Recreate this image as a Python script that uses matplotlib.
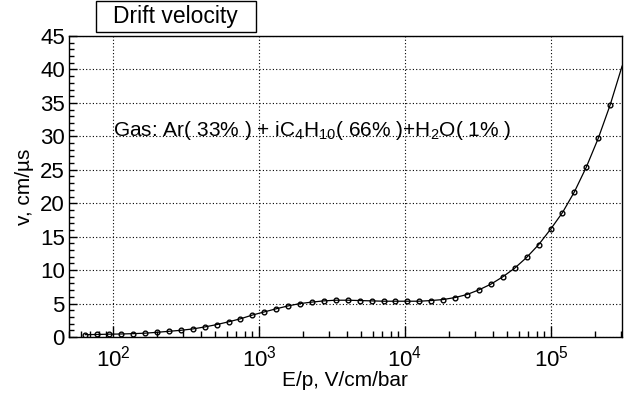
import numpy as np
import matplotlib
matplotlib.use("Agg")
import matplotlib.pyplot as plt
from matplotlib.patches import Rectangle

plt.rcParams['font.family'] = ['Liberation Sans', 'DejaVu Sans']
plt.rcParams['mathtext.fontset'] = 'custom'
plt.rcParams['mathtext.rm'] = 'Liberation Sans'
plt.rcParams['mathtext.it'] = 'Liberation Sans'
plt.rcParams['mathtext.default'] = 'regular'

# E/p (V/cm/bar) and drift velocity (cm/us)
e_over_p = [64.6, 78, 94.1, 113.6, 137, 165.5, 200, 241, 291, 351,
            424, 512, 618, 746, 900, 1087, 1312, 1583, 1911, 2306,
            2780, 3357, 4052, 4891, 5903, 7125, 8600, 10380, 12530, 15120,
            18250, 22030, 26590, 32100, 38740, 46760, 56440, 68120, 82230, 99250,
            119800, 144600, 174500, 210600, 254200, 306800]
velocity = [0.35, 0.38, 0.42, 0.45, 0.5, 0.57, 0.7, 0.85, 1.0, 1.2,
            1.5, 1.85, 2.27, 2.72, 3.28, 3.75, 4.22, 4.65, 5.0, 5.22,
            5.4, 5.5, 5.5, 5.45, 5.4, 5.35, 5.35, 5.35, 5.35, 5.45,
            5.6, 5.9, 6.35, 7.05, 7.9, 9.0, 10.3, 11.9, 13.8, 16.1,
            18.6, 21.7, 25.4, 29.7, 34.7, 40.5]

x_range = (50, 3.05e5)
y_range = (0, 45)

E = np.array(e_over_p)
v = np.array(velocity)
inside = E <= x_range[1]

fig = plt.figure(figsize=(6.28, 4.0), dpi=100)
ax = fig.add_axes([0.110, 0.1575, 0.880, 0.7525])

ax.plot(E, v, color='black', lw=0.9, zorder=3)
ax.plot(E[inside], v[inside], 'o', mfc='none', mec='black', ms=3.4, mew=1.0, zorder=4)

ax.set_xscale('log')
ax.set_xlim(*x_range)
ax.set_ylim(*y_range)
ax.set_yticks(np.arange(0, 46, 5))
ax.set_yticks(np.arange(0, 46, 1), minor=True)
ax.xaxis.set_minor_locator(matplotlib.ticker.LogLocator(base=10, subs=np.arange(2, 10)))
ax.xaxis.set_minor_formatter(matplotlib.ticker.NullFormatter())

ax.grid(True, which='major', color='black', linestyle=(0, (1, 2)), linewidth=0.8)
ax.tick_params(which='both', direction='in', top=False, right=False)
ax.tick_params(axis='x', which='major', length=8, width=1, labelsize=16, pad=6)
ax.tick_params(axis='x', which='minor', length=4, width=1)
ax.tick_params(axis='y', which='major', length=6, width=1, labelsize=16, pad=3)
ax.tick_params(axis='y', which='minor', length=3.5, width=1)
for s in ax.spines.values():
    s.set_linewidth(1)

ax.set_xlabel('E/p, V/cm/bar', fontsize=15, labelpad=0)
ax.set_ylabel('v, cm/\u00b5s', fontsize=15, labelpad=4)

ax.text(100, 30, 'Gas: Ar( 33% ) + iC$_4$H$_{10}$( 66% )+H$_2$O( 1% )',
        fontsize=15, ha='left', va='baseline')

# title box
fig.patches.append(Rectangle((0.1529, 0.920), 0.2547, 0.0775, transform=fig.transFigure,
                             facecolor='white', edgecolor='black', lw=1))
fig.text(0.280, 0.959, 'Drift velocity', fontsize=16.5, ha='center', va='center')

fig.savefig('out.png', dpi=100)
